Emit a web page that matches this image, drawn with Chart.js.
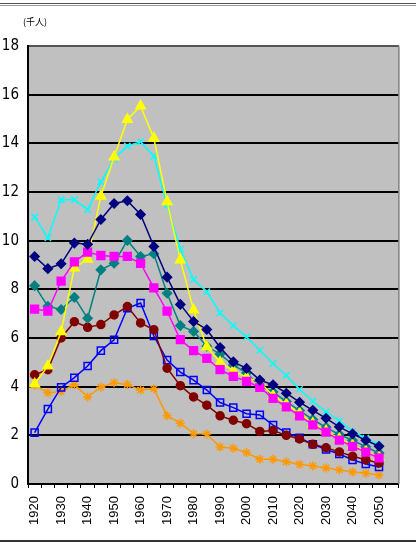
<!DOCTYPE html>
<html>
<head>
<meta charset="utf-8">
<script src="https://cdn.jsdelivr.net/npm/chart.js@4/dist/chart.umd.min.js"></script>
<style>
  html, body { margin: 0; padding: 0; background: #ffffff; }
  #wrap { position: relative; width: 416px; height: 544px; }
</style>
</head>
<body>
<div id="wrap"><canvas id="c"></canvas></div>
<script>
// Categories (last one is an empty slot at the right end of the axis)
const years = ['1920','1925','1930','1935','1940','1945','1950','1955','1960','1965','1970','1975','1980','1985','1990','1995','2000','2005','2010','2015','2020','2025','2030','2035','2040','2045','2050','2055'];
const unitLabel = '(千人)';
const yTicks = [0, 2, 4, 6, 8, 10, 12, 14, 16, 18];

const navyValues    = [9.35, 8.85, 9.05, 9.9, 9.85, 10.87, 11.53, 11.64, 11.08, 9.76, 8.5, 7.38, 6.68, 6.35, 5.61, 5.02, 4.75, 4.27, 4.08, 3.73, 3.36, 3.03, 2.7, 2.35, 2.06, 1.8, 1.55];
const magentaValues = [7.19, 7.11, 8.34, 9.13, 9.53, 9.39, 9.35, 9.35, 9.07, 8.06, 7.1, 5.93, 5.48, 5.16, 4.7, 4.42, 4.22, 3.97, 3.52, 3.17, 2.8, 2.43, 2.13, 1.8, 1.55, 1.31, 1.07];
const yellowValues  = [4.11, 4.85, 6.26, 8.88, 9.24, 11.83, 13.44, 14.98, 15.53, 14.21, 11.6, 9.21, 7.15, 5.63, 5.0, 4.65, 4.38, 4.2, 3.63, 3.28, 2.9, 2.49, 2.18, 1.86, 1.59, 1.35, 1.11];
const cyanValues    = [10.97, 10.12, 11.68, 11.68, 11.28, 12.42, 13.36, 13.89, 14.06, 13.48, 11.45, 9.65, 8.4, 7.9, 7.03, 6.51, 6.04, 5.49, 4.95, 4.46, 3.89, 3.4, 2.96, 2.6, 2.17, 1.88, 1.6];
const tealValues    = [8.15, 7.3, 7.17, 7.67, 6.81, 8.8, 9.07, 10.01, 9.35, 9.46, 7.84, 6.51, 6.27, 5.66, 5.34, 4.89, 4.56, 4.03, 3.78, 3.39, 3.02, 2.65, 2.33, 2.03, 1.8, 1.53, 1.27];
const darkRedValues = [4.49, 4.7, 6.0, 6.67, 6.44, 6.55, 6.95, 7.29, 6.62, 6.34, 4.76, 4.04, 3.58, 3.24, 2.8, 2.62, 2.48, 2.16, 2.2, 2.0, 1.85, 1.63, 1.49, 1.32, 1.14, 1.0, 0.86];
const blueValues    = [2.11, 3.08, 3.97, 4.37, 4.85, 5.48, 5.93, 7.22, 7.44, 6.08, 5.09, 4.6, 4.27, 3.86, 3.35, 3.14, 2.89, 2.84, 2.42, 2.11, 1.9, 1.63, 1.42, 1.23, 0.99, 0.82, 0.7];
const orangeValues  = [4.06, 3.75, 3.8, 4.08, 3.58, 3.98, 4.16, 4.09, 3.86, 3.91, 2.8, 2.5, 2.07, 2.05, 1.52, 1.47, 1.29, 1.02, 1.02, 0.91, 0.81, 0.74, 0.66, 0.58, 0.49, 0.44, 0.37];

function ds(data, color, style, radius, fill) {
  return {
    data: data,
    borderColor: color,
    backgroundColor: fill || color,
    pointBorderColor: color,
    pointBackgroundColor: fill || color,
    pointStyle: style,
    pointRadius: radius,
    pointBorderWidth: 1.5,
    borderWidth: 1.5,
    tension: 0,
    fill: false
  };
}

const decor = {
  id: 'decor',
  beforeDraw(chart) {
    const { ctx, chartArea: a } = chart;
    ctx.save();
    ctx.fillStyle = '#ffffff';
    ctx.fillRect(0, 0, chart.width, chart.height);
    ctx.fillStyle = '#c0c0c0';
    ctx.fillRect(a.left, a.top, a.right - a.left, a.bottom - a.top);
    // outer frame lines
    ctx.strokeStyle = '#555555';
    ctx.lineWidth = 1;
    ctx.beginPath(); ctx.moveTo(0, 3.5); ctx.lineTo(chart.width, 3.5); ctx.stroke();
    ctx.strokeStyle = '#9a9a9a';
    ctx.beginPath(); ctx.moveTo(0, 5.5); ctx.lineTo(chart.width, 5.5); ctx.stroke();
    ctx.strokeStyle = '#333333';
    ctx.lineWidth = 2;
    ctx.beginPath(); ctx.moveTo(0, 541); ctx.lineTo(chart.width, 541); ctx.stroke();
    // unit label
    ctx.fillStyle = '#000000';
    ctx.font = '9px "Noto Sans CJK JP", sans-serif';
    ctx.textBaseline = 'middle';
    ctx.textAlign = 'left';
    ctx.fillText(unitLabel, 23, 22);
    ctx.restore();
  },
  afterDatasetsDraw(chart) {
    const { ctx, chartArea: a } = chart;
    ctx.save();
    ctx.strokeStyle = '#808080';
    ctx.lineWidth = 1.5;
    ctx.beginPath(); ctx.moveTo(a.right, a.top); ctx.lineTo(a.right, a.bottom); ctx.stroke();
    ctx.restore();
  }
};

new Chart(document.getElementById('c'), {
  type: 'line',
  data: {
    labels: years,
    datasets: [
      ds(navyValues, '#000080', 'rectRot', 4.5),
      ds(magentaValues, '#ff00ff', 'rect', 5.5),
      ds(yellowValues, '#ffff00', 'triangle', 5.5),
      ds(cyanValues, '#00ffff', 'crossRot', 4.5),
      ds(tealValues, '#008080', 'rectRot', 4.5),
      ds(darkRedValues, '#800000', 'circle', 4),
      ds(blueValues, '#0000ff', 'rect', 5, 'rgba(0,0,0,0)'),
      ds(orangeValues, '#ff9900', 'star', 4.5)
    ]
  },
  options: {
    responsive: true,
    maintainAspectRatio: false,
    animation: false,
    layout: { padding: { top: 46, right: 4, bottom: 0, left: 0 } },
    plugins: { legend: { display: false }, tooltip: { enabled: false } },
    scales: {
      x: {
        type: 'category',
        offset: true,
        afterFit(s) { s.height = 60; },
        grid: { offset: true, drawOnChartArea: false, drawTicks: true, tickLength: 4, color: '#000000', lineWidth: 1 },
        border: { display: true, color: '#000000', width: 2 },
        ticks: {
          autoSkip: false,
          minRotation: 90,
          maxRotation: 90,
          padding: 8,
          color: '#000000',
          font: { family: '"Liberation Sans", Arial, sans-serif', size: 13 },
          callback(v, i) { return i % 2 === 0 ? years[i] : ''; }
        }
      },
      y: {
        min: 0,
        max: 18,
        afterFit(s) { s.width = 28; },
        afterBuildTicks(s) { s.ticks = yTicks.map(v => ({ value: v })); },
        grid: {
          drawTicks: false,
          color(c) { return c.tick && c.tick.value === 18 ? '#555555' : '#000000'; },
          lineWidth: 2
        },
        border: { display: true, color: '#000000', width: 2 },
        ticks: {
          padding: 9,
          color: '#000000',
          font: { family: '"Liberation Sans Narrow", "DejaVu Sans Condensed", sans-serif', size: 15 }
        }
      }
    }
  },
  plugins: [decor]
});
</script>
</body>
</html>
